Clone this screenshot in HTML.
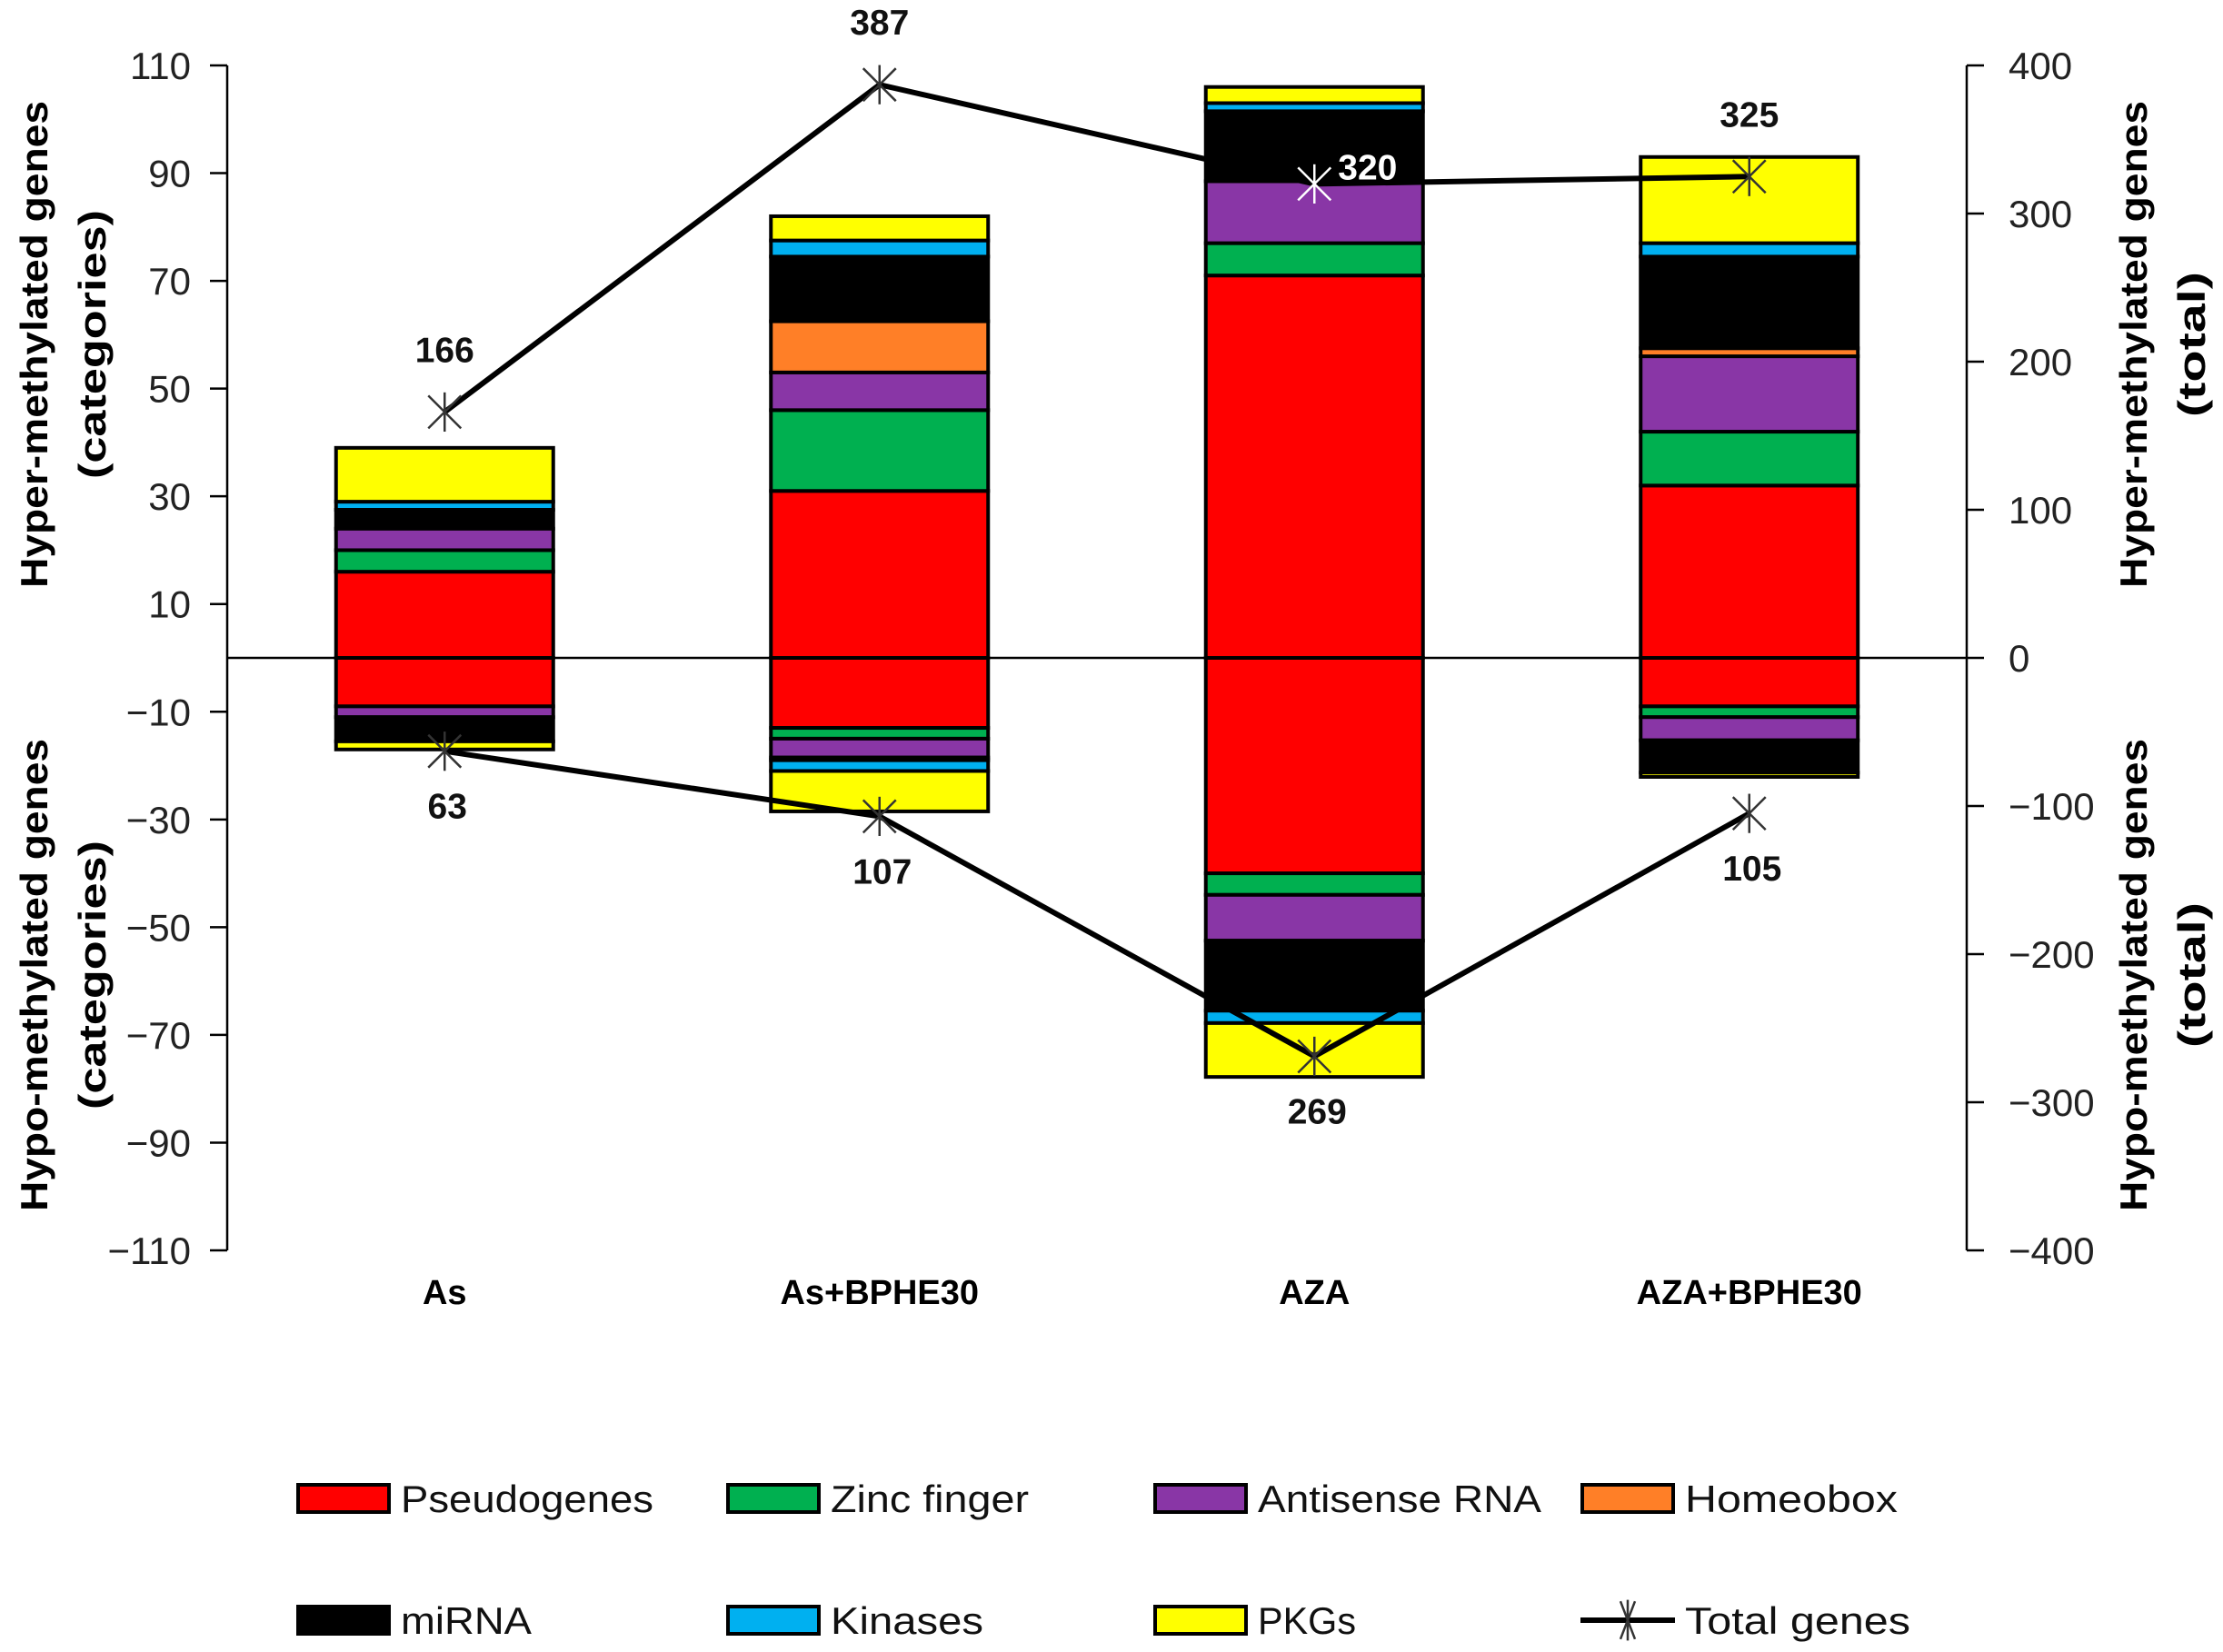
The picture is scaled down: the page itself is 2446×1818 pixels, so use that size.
<!DOCTYPE html>
<html><head><meta charset="utf-8"><style>
html,body{margin:0;padding:0;background:#fff}
svg{display:block;font-family:"Liberation Sans",sans-serif}
</style></head><body>
<svg id="chart" width="2446" height="1818" viewBox="0 0 2446 1818" xmlns="http://www.w3.org/2000/svg">
<rect width="2446" height="1818" fill="#fff"/>
<g id="bars"></g>
<g id="axes"></g>
<g id="line"></g>
<g id="legend"></g>
</svg>
<script>
const categories = ["As","As+BPHE30","AZA","AZA+BPHE30"];
const seriesNames = ["Pseudogenes","Zinc finger","Antisense RNA","Homeobox","miRNA","Kinases","PKGs"];
const seriesColors = ["#ff0000","#00b050","#8936a6","#ff7f27","#000000","#00b0f0","#ffff00"];
// hyper (positive) values per series, per category
const hyperPseudogenes = [16, 31, 71, 32];
const hyperZinc = [4, 15, 6, 10];
const hyperAntisense = [4, 7, 11.5, 14];
const hyperHomeobox = [0, 9.5, 0, 1.5];
const hyperMiRNA = [3.5, 12, 13, 17];
const hyperKinases = [1.5, 3, 1.5, 2.5];
const hyperPKGs = [10, 4.5, 3, 16];
// hypo (negative) values per series, per category
const hypoPseudogenes = [9, 13, 40, 9];
const hypoZinc = [0, 2, 4, 2];
const hypoAntisense = [2, 3.5, 8.5, 4.3];
const hypoHomeobox = [0, 0, 0, 0];
const hypoMiRNA = [4.5, 0.5, 13, 6];
const hypoKinases = [0, 2, 2.3, 0];
const hypoPKGs = [1.5, 7.5, 10, 0.8];
// total genes (line, right axis)
const totalHyper = [166, 387, 320, 325];
const totalHypo = [63, 107, 269, 105];
const leftTicks = [110,90,70,50,30,10,-10,-30,-50,-70,-90,-110];
const rightTicks = [400,300,200,100,0,-100,-200,-300,-400];

const hyper = [hyperPseudogenes,hyperZinc,hyperAntisense,hyperHomeobox,hyperMiRNA,hyperKinases,hyperPKGs];
const hypo = [hypoPseudogenes,hypoZinc,hypoAntisense,hypoHomeobox,hypoMiRNA,hypoKinases,hypoPKGs];

const NS="http://www.w3.org/2000/svg";
const X0=250, X1=2164, Y0=72, Y1=1376;
const yL = v => Y0 + (110 - v) * (Y1 - Y0) / 220;
const yR = v => Y0 + (400 - v) * (Y1 - Y0) / 800;
const band = (X1 - X0) / categories.length;
const xC = i => X0 + band * (i + 0.5);
const BW = 239;
function mk(tag, attrs, parent, text){
  const e=document.createElementNS(NS,tag);
  for(const k in attrs) e.setAttribute(k,attrs[k]);
  if(text!==undefined) e.textContent=text;
  parent.appendChild(e); return e;
}
const gB=document.getElementById('bars'), gA=document.getElementById('axes'), gL=document.getElementById('line'), gG=document.getElementById('legend');

categories.forEach((c,i)=>{
  const x=xC(i)-BW/2;
  let acc=0;
  hyper.forEach((s,k)=>{
    const v=s[i]; if(v<=0){return;}
    const r=mk('rect',{x:x,y:yL(acc+v),width:BW,height:yL(acc)-yL(acc+v),fill:seriesColors[k],stroke:'#000','stroke-width':4},gB);
    
    
    acc+=v;
  });
  acc=0;
  hypo.forEach((s,k)=>{
    const v=s[i]; if(v<=0){return;}
    const r=mk('rect',{x:x,y:yL(-acc),width:BW,height:yL(-acc-v)-yL(-acc),fill:seriesColors[k],stroke:'#000','stroke-width':4},gB);
    
    
    acc+=v;
  });
  const t=mk('text',{x:xC(i),y:1435,'text-anchor':'middle','font-size':38,'font-weight':'bold',fill:'#000'},gA,c);
  
  
});

const ax=mk('path',{d:`M${X0},${Y0}V${Y1}M${X1},${Y0}V${Y1}M${X0},${yL(0)}H${X1}`,stroke:'#000','stroke-width':2.5,fill:'none'},gA);


leftTicks.forEach(v=>{
  mk('line',{x1:X0-19,x2:X0,y1:yL(v),y2:yL(v),stroke:'#000','stroke-width':2.5},gA);
  const t=mk('text',{x:210,y:yL(v)+15,'text-anchor':'end','font-size':42,fill:'#222'},gA,v<0?'\u2212'+(-v):String(v));
  
  
});
rightTicks.forEach(v=>{
  mk('line',{x1:X1,x2:X1+19,y1:yR(v),y2:yR(v),stroke:'#000','stroke-width':2.5},gA);
  const t=mk('text',{x:2210,y:yR(v)+15,'text-anchor':'start','font-size':42,fill:'#222'},gA,v<0?'\u2212'+(-v):String(v));
  
  
});
function title(x,y,txt,len,name){
  const t=mk('text',{x:0,y:0,transform:`translate(${x},${y}) rotate(-90)`,'text-anchor':'middle','font-size':42,'font-weight':'bold',fill:'#000',textLength:len,lengthAdjust:'spacingAndGlyphs'},gA,txt);
  
  
}
title(52,379,'Hyper-methylated genes',536,'left-axis-title-hyper');
title(116,379,'(categories)',296,'left-axis-title-hyper-unit');
title(52,1073,'Hypo-methylated genes',520,'left-axis-title-hypo');
title(116,1073,'(categories)',296,'left-axis-title-hypo-unit');
title(2362,379,'Hyper-methylated genes',536,'right-axis-title-hyper');
title(2426,379,'(total)',160,'right-axis-title-hyper-unit');
title(2362,1073,'Hypo-methylated genes',520,'right-axis-title-hypo');
title(2426,1073,'(total)',160,'right-axis-title-hypo-unit');

function star(cx,cy,col,name){
  const g=mk('g',{stroke:col,'stroke-width':2.5},gL);
  
  
  const r=18;
  mk('line',{x1:cx-r,y1:cy-r,x2:cx+r,y2:cy+r},g);
  mk('line',{x1:cx-r,y1:cy+r,x2:cx+r,y2:cy-r},g);
  mk('line',{x1:cx,y1:cy-r*1.2,x2:cx,y2:cy+r*1.2},g);
}
const hp=totalHyper.map((v,i)=>[xC(i),yR(v)]);
const lp=totalHypo.map((v,i)=>[xC(i),yR(-v)]);
const l1=mk('polyline',{points:hp.map(p=>p.join(',')).join(' '),fill:'none',stroke:'#000','stroke-width':6},gL);


const l2=mk('polyline',{points:lp.map(p=>p.join(',')).join(' '),fill:'none',stroke:'#000','stroke-width':6},gL);


hp.forEach((p,i)=>{
  const white = i===2;
  star(p[0],p[1],white?'#fff':'#333','total-hyper-point');
  let tx=p[0], ty=p[1]-55, anchor='middle', col='#111';
  if(white){tx=p[0]+26; ty=p[1]-5; anchor='start'; col='#fff';}
  const t=mk('text',{x:tx,y:ty,'text-anchor':anchor,'font-size':39,'font-weight':'bold',fill:col},gL,String(totalHyper[i]));
  
  
});
lp.forEach((p,i)=>{
  star(p[0],p[1],'#333','total-hypo-point');
  const t=mk('text',{x:p[0]+3,y:p[1]+74,'text-anchor':'middle','font-size':39,'font-weight':'bold',fill:'#111'},gL,String(totalHypo[i]));
  
  
});

const legX=[326,799,1269,1739], legY=[1649,1783];
const legLen=[278,218,312,234,144,168,108,248];
const items=seriesNames.concat(['Total genes']);
items.forEach((name,j)=>{
  const col=j%4,row=Math.floor(j/4);
  const x=legX[col], y=legY[row];
  const g=mk('g',{},gG);
  
  
  if(j<7){
    mk('rect',{x:x+2,y:y-15,width:100,height:30,fill:seriesColors[j],stroke:'#000','stroke-width':4},g);
  } else {
    mk('line',{x1:x,x2:x+104,y1:y,y2:y,stroke:'#000','stroke-width':6},g);
    const r=16;
    mk('line',{x1:x+52-r*0.5,y1:y-r*1.3,x2:x+52+r*0.5,y2:y+r*1.3,stroke:'#333','stroke-width':2.5},g);
    mk('line',{x1:x+52+r*0.5,y1:y-r*1.3,x2:x+52-r*0.5,y2:y+r*1.3,stroke:'#333','stroke-width':2.5},g);
    mk('line',{x1:x+52,y1:y-r*1.4,x2:x+52,y2:y+r*1.4,stroke:'#333','stroke-width':2.5},g);
  }
  mk('text',{x:x+115,y:y+15,'font-size':42,fill:'#111',textLength:legLen[j],lengthAdjust:'spacingAndGlyphs'},g,name);
});
</script>
</body></html>
